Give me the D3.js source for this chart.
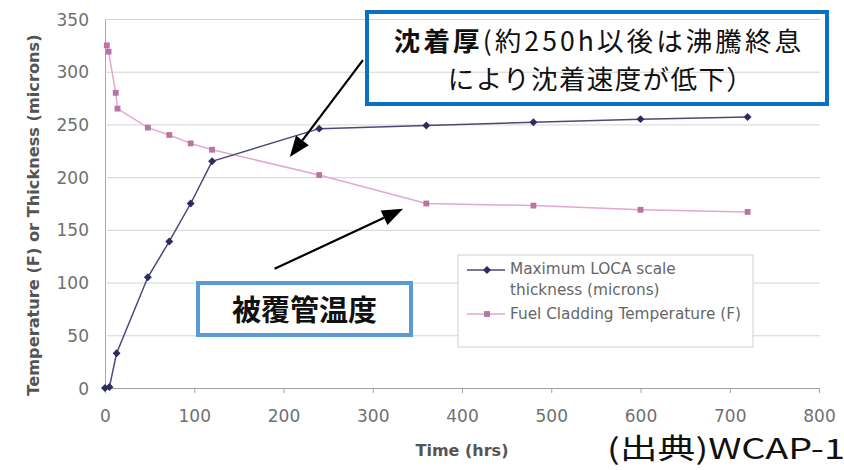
<!DOCTYPE html>
<html><head><meta charset="utf-8">
<script src="https://cdn.jsdelivr.net/npm/d3@7/dist/d3.min.js"></script>
<style>
html,body{margin:0;padding:0;background:#fff;}
svg{display:block;}
</style></head>
<body>
<svg id="chart" width="844" height="470"></svg>
<script>
// ---- data ----
const timeThick = [0, 5, 13, 48, 72, 96, 120, 240, 360, 480, 600, 720];
const thickness = [0, 1, 33, 105, 139, 175, 215, 246, 249, 252, 255, 257];
const timeTemp = [2, 4, 12, 14, 48, 72, 96, 120, 240, 360, 480, 600, 720];
const temperature = [325, 319, 280, 265, 247, 240, 232, 226, 202, 175, 173, 169, 167];
const xTicks = [0, 100, 200, 300, 400, 500, 600, 700, 800];
const yTicks = [0, 50, 100, 150, 200, 250, 300, 350];
const seriesNames = ["Maximum LOCA scale", "thickness (microns)", "Fuel Cladding Temperature (F)"];
const xTitle = "Time (hrs)";
const yTitle = "Temperature (F) or Thickness (microns)";
const noteTopBold = "沈着厚";
const noteTopRest = "(約250h以後は沸騰終息";
const noteTopLine2 = "により沈着速度が低下）";
const noteBottom = "被覆管温度";
const sourceText = "(出典)WCAP-1";
// annotation arrows in data coordinates [fromX, fromY, toX, toY]
const arrowThick = [289, 311, 207, 219];
const arrowTemp = [190, 113, 334, 170];

// ---- layout ----
const svg = d3.select("#chart");
const x = d3.scaleLinear().domain([0, 800]).range([105, 819]);
const y = d3.scaleLinear().domain([0, 350]).range([388, 19]);
const tickFont = "'DejaVu Sans', sans-serif";
const cjk = "'Noto Sans CJK JP', sans-serif";

// gridlines + y axis
const gy = svg.append("g").attr("transform", `translate(${x(0)},0)`)
  .call(d3.axisLeft(y).tickValues(yTicks).tickSize(-(x(800) + 1 - x(0))).tickSizeOuter(0).tickPadding(16));
gy.select(".domain").attr("stroke", "#a8a8a8");
gy.selectAll(".tick line").attr("stroke", "#d4d4d4").attr("stroke-width", 1)
  .filter(d => d === 0).remove();
gy.selectAll(".tick text").attr("font-family", tickFont).attr("font-size", 17)
  .attr("fill", "#707070").attr("dy", null).attr("dominant-baseline", "central");

// x axis
const gx = svg.append("g").attr("transform", `translate(0,${y(0)})`)
  .call(d3.axisBottom(x).tickValues(xTicks).tickSize(5).tickSizeOuter(0));
gx.select(".domain").attr("stroke", "#a0a0a0");
gx.selectAll(".tick line").attr("stroke", "#a0a0a0");
gx.selectAll(".tick text").attr("font-family", tickFont).attr("font-size", 17)
  .attr("fill", "#707070").attr("y", 27.5).attr("dy", null).attr("dominant-baseline", "central");

// axis titles
svg.append("text").attr("x", 462).attr("y", 450).attr("text-anchor", "middle")
  .attr("dominant-baseline", "central")
  .attr("font-family", tickFont).attr("font-weight", "bold").attr("font-size", 16)
  .attr("fill", "#555").text(xTitle);
svg.append("text").attr("transform", "translate(33,215) rotate(-90)").attr("text-anchor", "middle")
  .attr("dominant-baseline", "central")
  .attr("font-family", tickFont).attr("font-weight", "bold").attr("font-size", 16.2)
  .attr("fill", "#555").text(yTitle);

// series
const thickData = timeThick.map((t, i) => [t, thickness[i]]);
const tempData = timeTemp.map((t, i) => [t, temperature[i]]);
const line = d3.line().x(d => x(d[0])).y(d => y(d[1]));
const darkLine = "#4a4a78", darkMark = "#2c2c62";
const pinkLine = "#e4a6d2", pinkMark = "#b774a4";

svg.append("path").datum(tempData).attr("d", line).attr("fill", "none")
  .attr("stroke", pinkLine).attr("stroke-width", 1.5);
svg.append("path").datum(thickData).attr("d", line).attr("fill", "none")
  .attr("stroke", darkLine).attr("stroke-width", 1.5);

const diamond = d3.symbol().type(d3.symbolDiamond2).size(40);
const square = d3.symbol().type(d3.symbolSquare).size(34);
svg.append("g").selectAll("path").data(tempData).join("path")
  .attr("d", square).attr("transform", d => `translate(${x(d[0])},${y(d[1])})`)
  .attr("fill", pinkMark);
svg.append("g").selectAll("path").data(thickData).join("path")
  .attr("d", diamond).attr("transform", d => `translate(${x(d[0])},${y(d[1])})`)
  .attr("fill", darkMark);

// legend
const lg = svg.append("g");
lg.append("rect").attr("x", 458).attr("y", 255).attr("width", 295).attr("height", 92)
  .attr("fill", "#fff").attr("stroke", "#d0d0d0").attr("stroke-width", 1);
lg.append("line").attr("x1", 467).attr("x2", 505).attr("y1", 270).attr("y2", 270)
  .attr("stroke", darkLine).attr("stroke-width", 1.5);
lg.append("path").attr("d", diamond).attr("transform", "translate(487,270)").attr("fill", darkMark);
lg.append("line").attr("x1", 467).attr("x2", 505).attr("y1", 314).attr("y2", 314)
  .attr("stroke", pinkLine).attr("stroke-width", 1.5);
lg.append("path").attr("d", square).attr("transform", "translate(487,314)").attr("fill", pinkMark);
const lt = lg.append("text").attr("font-family", tickFont).attr("font-size", 15.3).attr("fill", "#666");
[[seriesNames[0], 274], [seriesNames[1], 295], [seriesNames[2], 319]].forEach(([t, yy]) => {
  lt.append("tspan").attr("x", 510).attr("y", yy).text(t);
});

// annotation boxes
svg.append("rect").attr("x", 367).attr("y", 12).attr("width", 460).attr("height", 92)
  .attr("fill", "none").attr("stroke", "#0a70c2").attr("stroke-width", 4);
const t1 = svg.append("text").attr("text-anchor", "middle")
  .attr("dominant-baseline", "central").attr("font-family", cjk).attr("font-size", 26.5)
  .attr("fill", "#111");
t1.append("tspan").attr("x", 599).attr("y", 38.5).attr("letter-spacing", 3.1)
  .attr("font-weight", "bold").text(noteTopBold);
t1.append("tspan").attr("letter-spacing", 3.1).text(noteTopRest);
t1.append("tspan").attr("x", 601).attr("y", 77).attr("letter-spacing", 1.4).text(noteTopLine2);

svg.append("rect").attr("x", 198).attr("y", 283).attr("width", 213).attr("height", 52)
  .attr("fill", "none").attr("stroke", "#5b9bd5").attr("stroke-width", 4);
svg.append("text").attr("x", 304.5).attr("y", 307.5).attr("text-anchor", "middle")
  .attr("dominant-baseline", "central").attr("font-family", cjk).attr("font-weight", "bold")
  .attr("font-size", 29).attr("fill", "#111").text(noteBottom);

// arrows
function arrow(a) {
  const x1 = x(a[0]), y1 = y(a[1]), x2 = x(a[2]), y2 = y(a[3]);
  const ang = Math.atan2(y2 - y1, x2 - x1);
  const L = 21, W = 8;
  const bx = x2 - L * Math.cos(ang), by = y2 - L * Math.sin(ang);
  svg.append("line").attr("x1", x1).attr("y1", y1).attr("x2", bx).attr("y2", by)
    .attr("stroke", "#000").attr("stroke-width", 2.2);
  const px = -Math.sin(ang) * W, py = Math.cos(ang) * W;
  svg.append("polygon").attr("points",
    [[x2, y2], [bx + px, by + py], [bx - px, by - py]].map(p => p.join(",")).join(" "))
    .attr("fill", "#000");
}
arrow(arrowThick);
arrow(arrowTemp);

// source
svg.append("text").attr("x", 607).attr("y", 446).attr("dominant-baseline", "central")
  .attr("font-family", cjk).attr("font-size", 28.5).attr("fill", "#111")
  .attr("textLength", 238).attr("lengthAdjust", "spacingAndGlyphs").text(sourceText);
</script>
</body></html>
